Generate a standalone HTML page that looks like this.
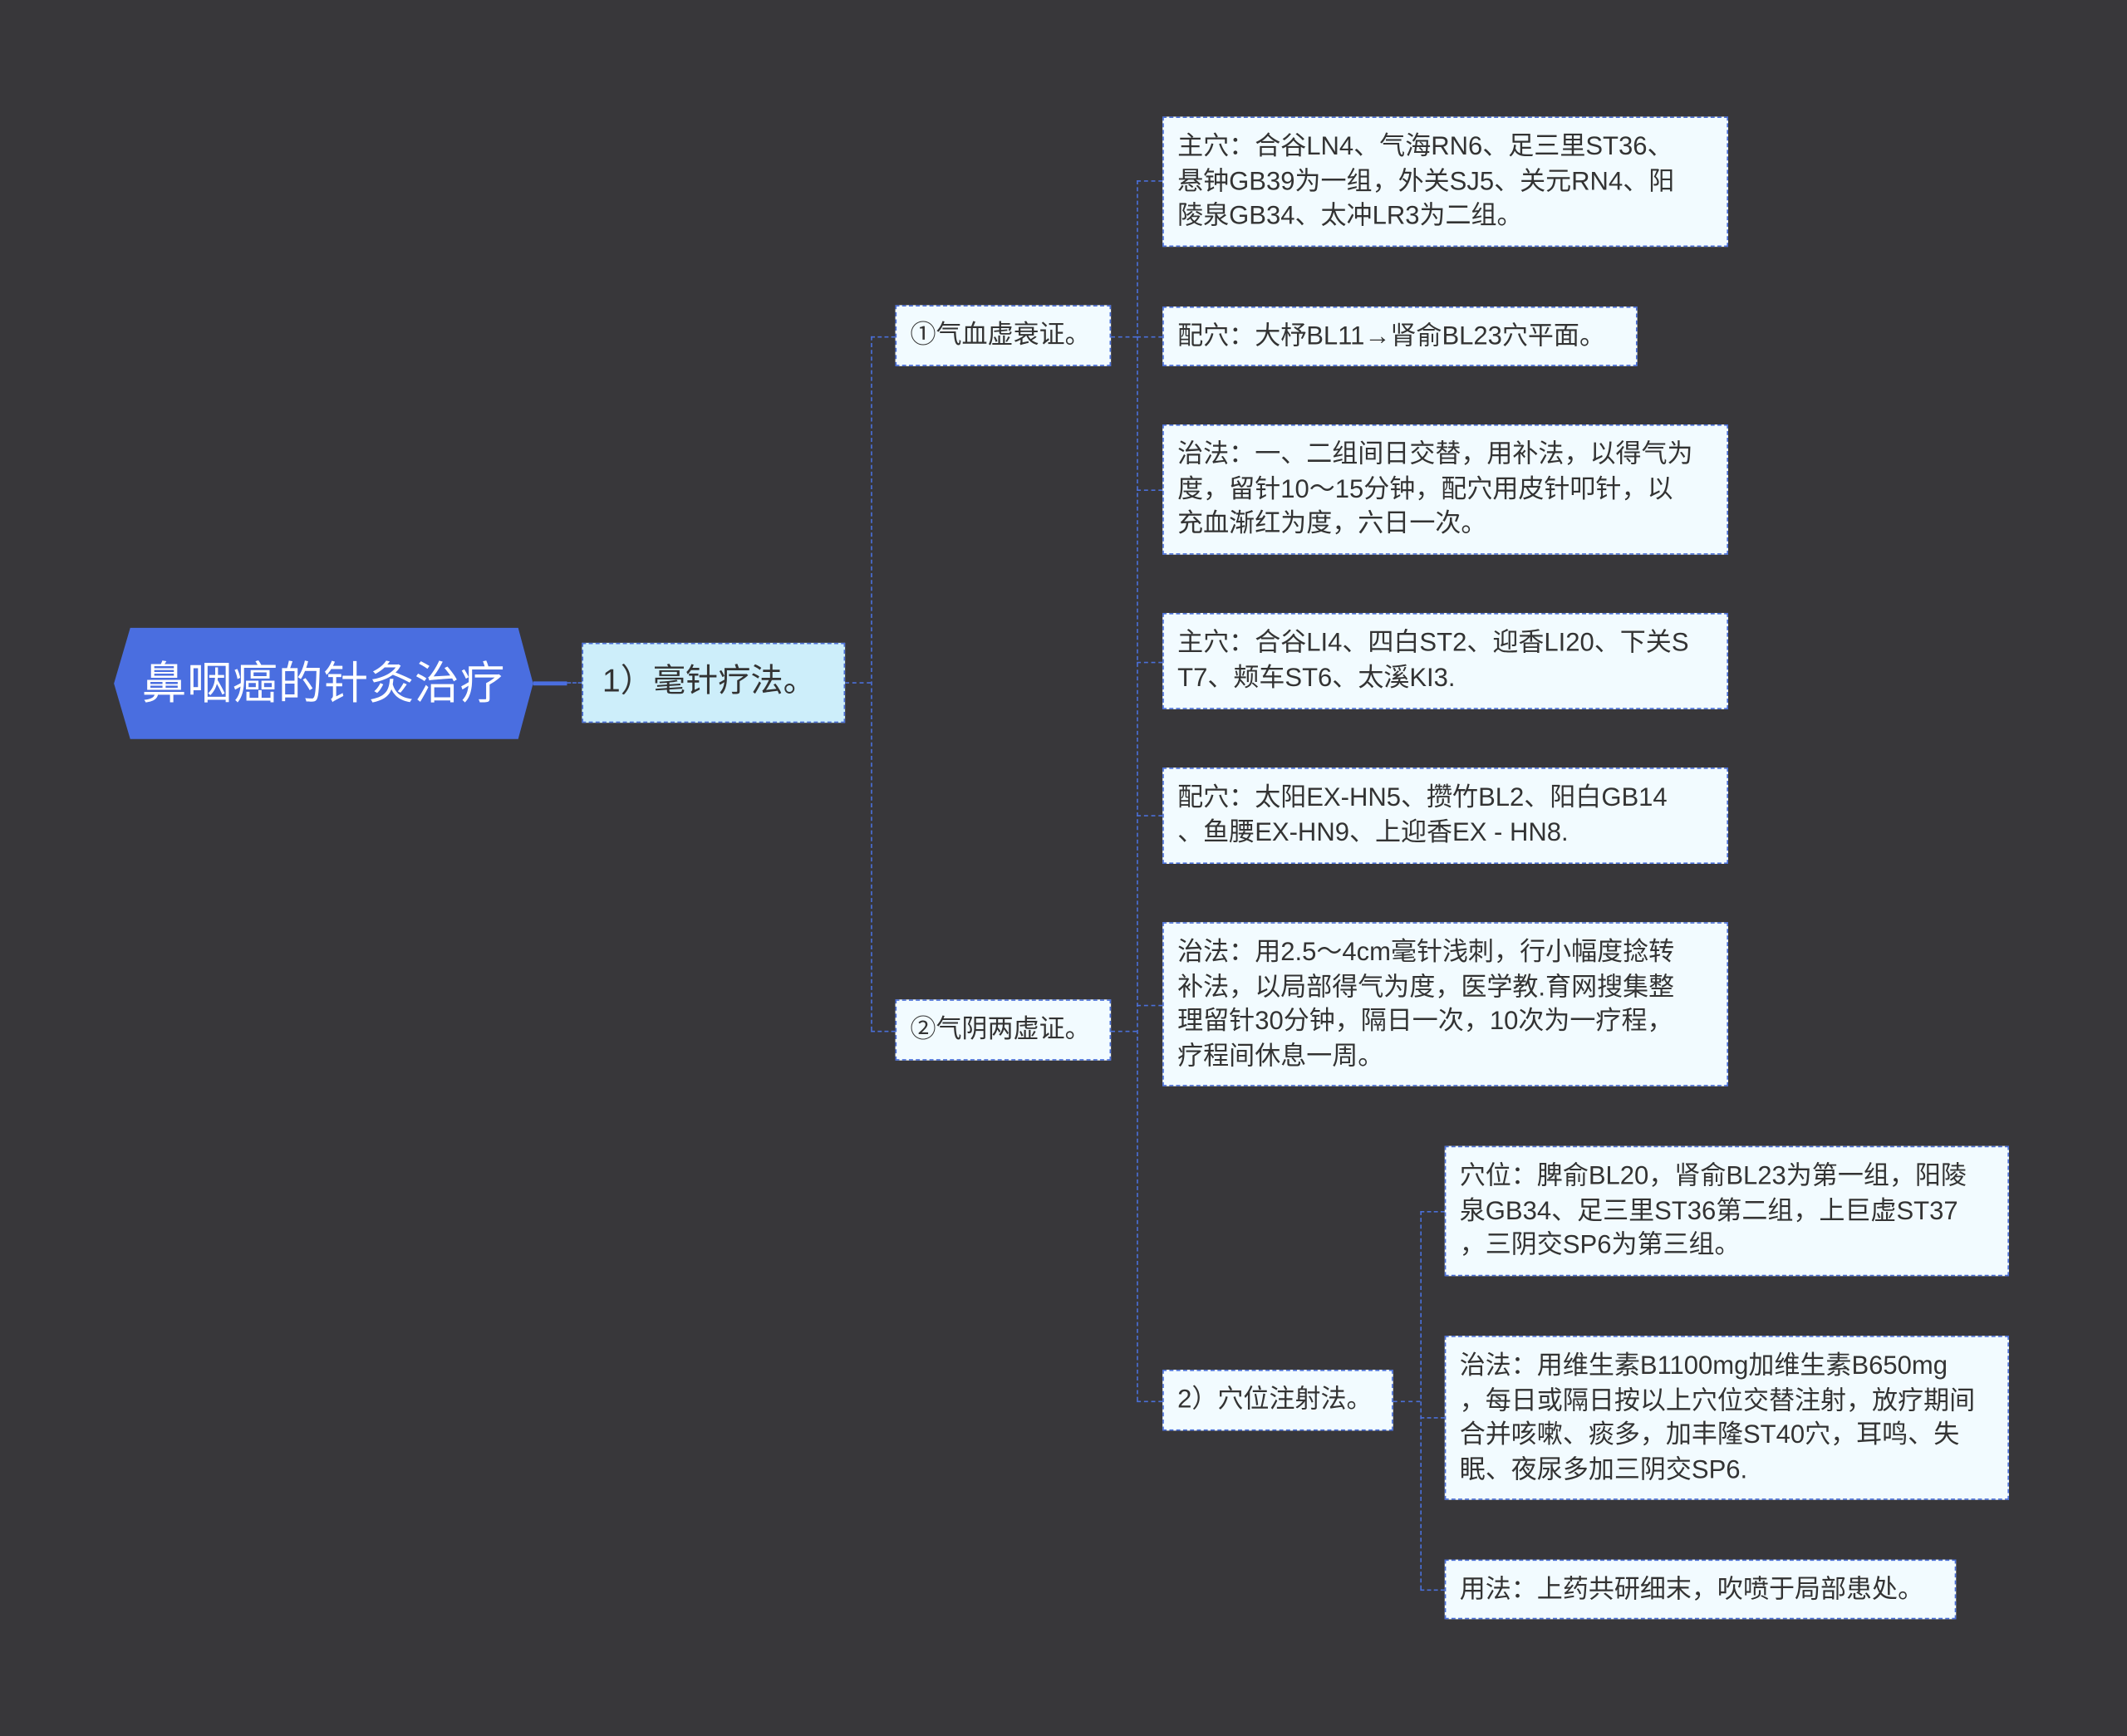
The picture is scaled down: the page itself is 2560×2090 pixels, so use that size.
<!DOCTYPE html>
<html><head><meta charset="utf-8"><style>
html,body{margin:0;padding:0;background:#38373a;}
body{width:2560px;height:2089px;overflow:hidden;}
#w{position:absolute;left:0;top:0;width:1568px;height:1280px;transform:scale(1.63265);transform-origin:0 0;font-family:"Liberation Sans","Noto Sans CJK SC",sans-serif;}
.b{position:absolute;box-sizing:border-box;background:#f2fbff;border:1.5px dashed #4a6fd8;color:#333;font-size:19px;line-height:25.5px;padding:9px 10px;white-space:nowrap;overflow:hidden;}
.h{position:absolute;border-left:1.5px dashed #4a6fd8;width:0;}
.v{position:absolute;border-top:1.5px dashed #4a6fd8;height:0;}
</style></head><body><div id="w">
<svg style="position:absolute;left:0;top:0" width="1568" height="1280">
<polygon points="96,463 382,463 393,504 382,545 96,545 84,504" fill="#4a6ee0"/>
<line x1="393" y1="504" x2="418" y2="504" stroke="#4a6ee0" stroke-width="3"/>
</svg>
<div style="position:absolute;left:84px;top:463px;width:309px;height:82px;line-height:82px;text-align:center;color:#fff;font-size:33px;letter-spacing:0.5px;">鼻咽癌的针灸治疗</div>
<div class="v" style="left:418px;top:503px;width:11px"></div>
<div class="b" style="left:429px;top:474px;width:194px;height:59px;background:#cdeefa;font-size:24px;line-height:38px;padding:9px 14px;">1）毫针疗法。</div>
<div class="v" style="left:623px;top:503px;width:19px"></div>
<div class="h" style="left:642px;top:248px;height:512px"></div>
<div class="v" style="left:642px;top:248px;width:18px"></div>
<div class="v" style="left:642px;top:760px;width:18px"></div>
<div class="b" style="left:660px;top:225px;width:159px;height:45px;">①气血虚衰证。</div>
<div class="b" style="left:660px;top:737px;width:159px;height:45px;">②气阴两虚证。</div>
<div class="v" style="left:819px;top:248px;width:19px"></div>
<div class="v" style="left:819px;top:760px;width:19px"></div>
<div class="h" style="left:838px;top:133px;height:900px"></div>
<div class="v" style="left:838px;top:133px;width:19px"></div>
<div class="v" style="left:838px;top:248px;width:19px"></div>
<div class="v" style="left:838px;top:361px;width:19px"></div>
<div class="v" style="left:838px;top:488px;width:19px"></div>
<div class="v" style="left:838px;top:601px;width:19px"></div>
<div class="v" style="left:838px;top:741px;width:19px"></div>
<div class="v" style="left:838px;top:1033px;width:19px"></div>
<div class="b" style="left:857px;top:86px;width:417px;height:96px;">主穴：合谷LN4、气海RN6、足三里ST36、<br>悬钟GB39为一组，外关SJ5、关元RN4、阳<br>陵泉GB34、太冲LR3为二组。</div>
<div class="b" style="left:857px;top:226px;width:350px;height:44px;">配穴：大杼BL11→肾俞BL23穴平面。</div>
<div class="b" style="left:857px;top:313px;width:417px;height:96px;">治法：一、二组间日交替，用补法，以得气为<br>度，留针10～15分钟，配穴用皮针叩针，以<br>充血渐红为度，六日一次。</div>
<div class="b" style="left:857px;top:452px;width:417px;height:71px;">主穴：合谷LI4、四白ST2、迎香LI20、下关S<br>T7、颊车ST6、太溪KI3.</div>
<div class="b" style="left:857px;top:566px;width:417px;height:71px;">配穴：太阳EX-HN5、攒竹BL2、阳白GB14<br>、鱼腰EX-HN9、上迎香EX - HN8.</div>
<div class="b" style="left:857px;top:680px;width:417px;height:121px;">治法：用2.5～4cm毫针浅刺，行小幅度捻转<br>补法，以局部得气为度，医学教.育网搜集整<br>理留针30分钟，隔日一次，10次为一疗程，<br>疗程间休息一周。</div>
<div class="b" style="left:857px;top:1010px;width:170px;height:45px;">2）穴位注射法。</div>
<div class="v" style="left:1027px;top:1033px;width:20px"></div>
<div class="h" style="left:1047px;top:893px;height:279px"></div>
<div class="v" style="left:1047px;top:893px;width:18px"></div>
<div class="v" style="left:1047px;top:1045px;width:18px"></div>
<div class="v" style="left:1047px;top:1172px;width:18px"></div>
<div class="b" style="left:1065px;top:845px;width:416px;height:96px;">穴位：脾俞BL20，肾俞BL23为第一组，阳陵<br>泉GB34、足三里ST36第二组，上巨虚ST37<br>，三阴交SP6为第三组。</div>
<div class="b" style="left:1065px;top:985px;width:416px;height:121px;">治法：用维生素B1100mg加维生素B650mg<br>，每日或隔日按以上穴位交替注射，放疗期间<br>合并咳嗽、痰多，加丰隆ST40穴，耳鸣、失<br>眠、夜尿多加三阴交SP6.</div>
<div class="b" style="left:1065px;top:1150px;width:377px;height:44px;">用法：上药共研细末，吹喷于局部患处。</div>
</div></body></html>
